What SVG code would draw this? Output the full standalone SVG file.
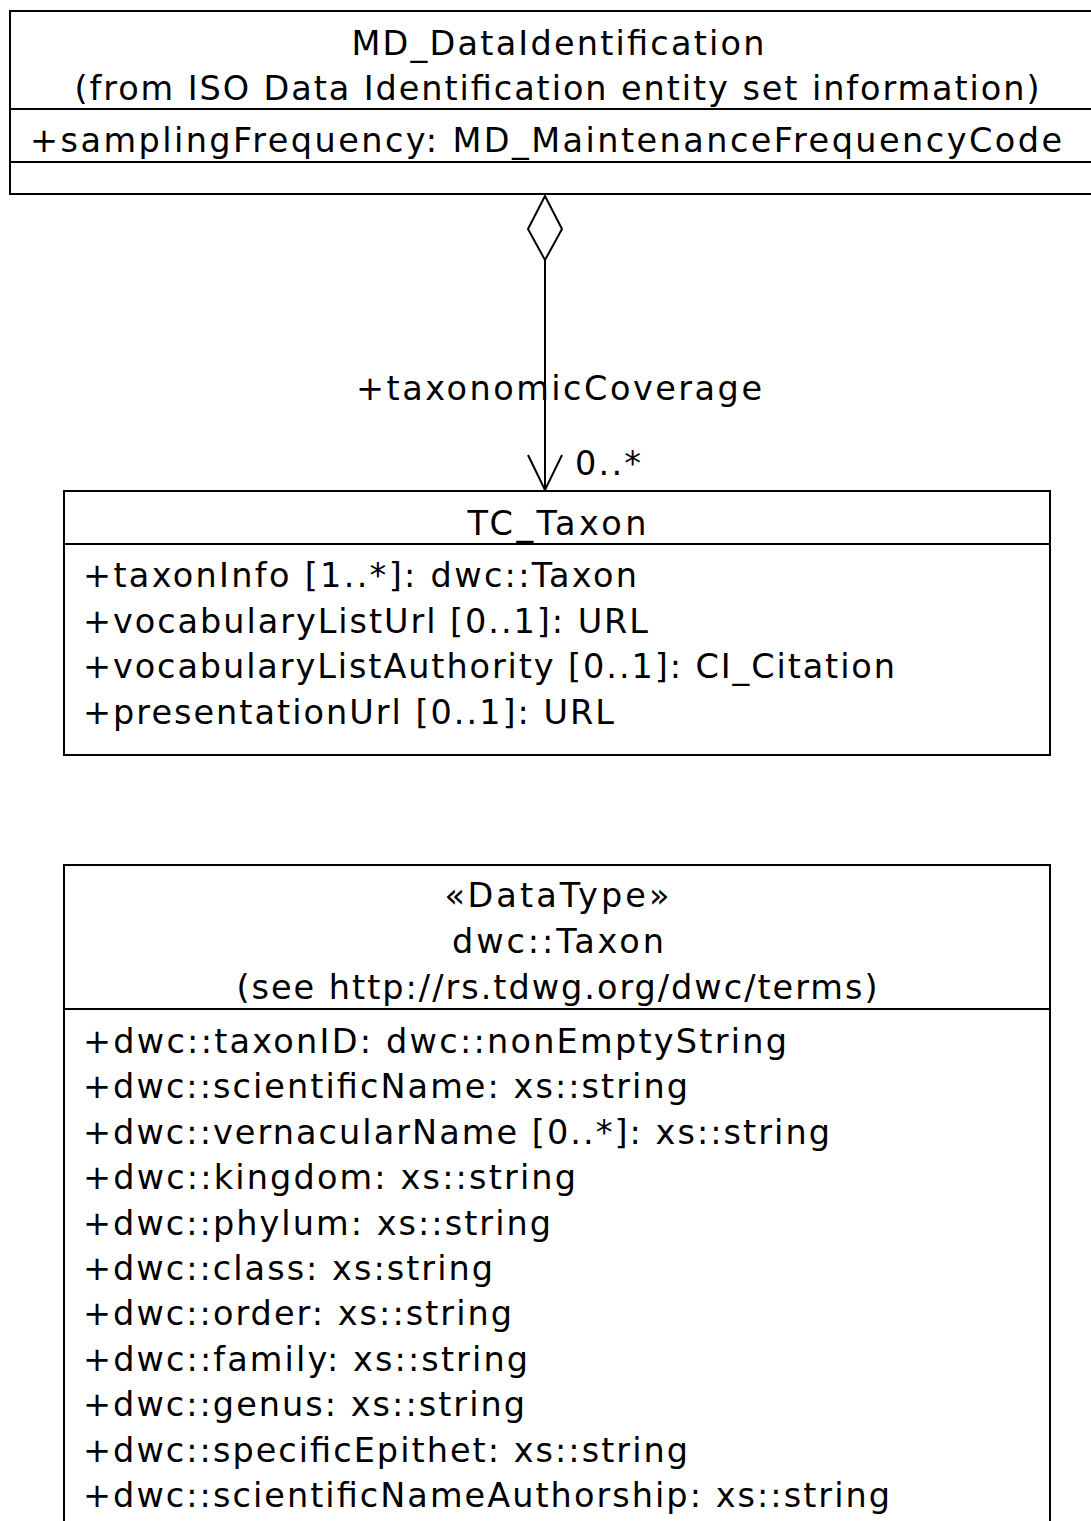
<svg xmlns="http://www.w3.org/2000/svg" width="1091" height="1521" viewBox="0 0 1091 1521">
<style>
.box{fill:#fff;stroke:#000;stroke-width:2}
.ln{stroke:#000;stroke-width:2;fill:none}
text{font-family:"DejaVu Sans","Liberation Sans",sans-serif;font-size:33.5px;fill:#000}
.c{text-anchor:middle}
</style>
<rect width="1091" height="1521" fill="#fff"/>
<g id="md-dataidentification">
<rect class="box" x="10" y="11" width="1100" height="183"/>
<line class="ln" x1="10" y1="109" x2="1110" y2="109"/>
<line class="ln" x1="10" y1="162" x2="1110" y2="162"/>
<text class="c" x="558" y="55" textLength="413" lengthAdjust="spacing">MD_DataIdentification</text>
<text class="c" x="557" y="100" textLength="965" lengthAdjust="spacing">(from ISO Data Identification entity set information)</text>
<text x="30" y="152" textLength="1032" lengthAdjust="spacing">+samplingFrequency: MD_MaintenanceFrequencyCode</text>
</g>
<g id="connectors">
<polygon class="ln" points="545,196 562,229 545,260 528,229" fill="#fff"/>
<line class="ln" x1="545" y1="260" x2="545" y2="490"/>
<polyline class="ln" points="528,455 545,490 562,455"/>
<text x="356" y="400" textLength="406" lengthAdjust="spacing">+taxonomicCoverage</text>
<text x="575" y="475" textLength="66" lengthAdjust="spacing">0..*</text>
</g>
<g id="tc-taxon">
<rect class="box" x="64" y="491" width="986" height="264"/>
<line class="ln" x1="64" y1="544" x2="1050" y2="544"/>
<text class="c" x="557" y="535" textLength="179" lengthAdjust="spacing">TC_Taxon</text>
<text x="83" y="587" textLength="554" lengthAdjust="spacing">+taxonInfo [1..*]: dwc::Taxon</text>
<text x="83" y="633" textLength="565" lengthAdjust="spacing">+vocabularyListUrl [0..1]: URL</text>
<text x="83" y="678" textLength="812" lengthAdjust="spacing">+vocabularyListAuthority [0..1]: CI_Citation</text>
<text x="83" y="724" textLength="531" lengthAdjust="spacing">+presentationUrl [0..1]: URL</text>
</g>
<g id="dwc-taxon">
<rect class="box" x="64" y="865" width="986" height="700"/>
<line class="ln" x1="64" y1="1009" x2="1050" y2="1009"/>
<text class="c" x="557" y="907" textLength="225" lengthAdjust="spacing">«DataType»</text>
<text class="c" x="558" y="953" textLength="212" lengthAdjust="spacing">dwc::Taxon</text>
<text class="c" x="557" y="999" textLength="641" lengthAdjust="spacing">(see http://rs.tdwg.org/dwc/terms)</text>
<text x="83" y="1053" textLength="704" lengthAdjust="spacing">+dwc::taxonID: dwc::nonEmptyString</text>
<text x="83" y="1098" textLength="605" lengthAdjust="spacing">+dwc::scientificName: xs::string</text>
<text x="83" y="1144" textLength="747" lengthAdjust="spacing">+dwc::vernacularName [0..*]: xs::string</text>
<text x="83" y="1189" textLength="493" lengthAdjust="spacing">+dwc::kingdom: xs::string</text>
<text x="83" y="1235" textLength="468" lengthAdjust="spacing">+dwc::phylum: xs::string</text>
<text x="83" y="1280" textLength="410" lengthAdjust="spacing">+dwc::class: xs:string</text>
<text x="83" y="1325" textLength="429" lengthAdjust="spacing">+dwc::order: xs::string</text>
<text x="83" y="1371" textLength="445" lengthAdjust="spacing">+dwc::family: xs::string</text>
<text x="83" y="1416" textLength="442" lengthAdjust="spacing">+dwc::genus: xs::string</text>
<text x="83" y="1462" textLength="605" lengthAdjust="spacing">+dwc::specificEpithet: xs::string</text>
<text x="83" y="1507" textLength="807" lengthAdjust="spacing">+dwc::scientificNameAuthorship: xs::string</text>
</g>
</svg>
